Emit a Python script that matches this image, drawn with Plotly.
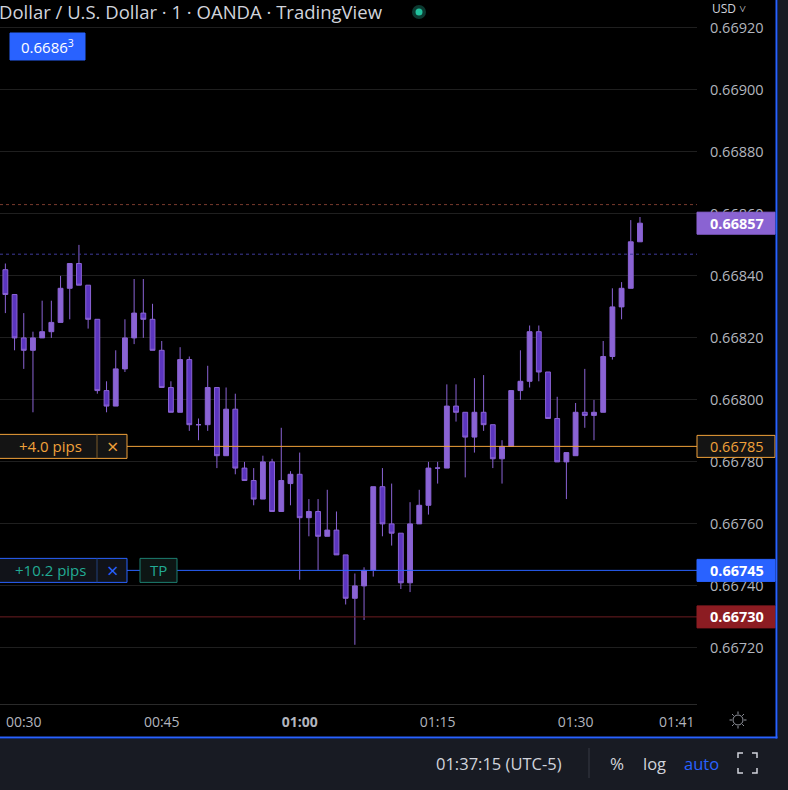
import pandas as pd
import plotly.graph_objects as go

# ---------------- data ----------------
times = pd.date_range("2024-01-01 00:28", periods=70, freq="1min")

opens = [0.66842, 0.66834, 0.66820, 0.66816, 0.66820, 0.66822, 0.66825, 0.66836, 0.66844, 0.66837,
         0.66826, 0.66803, 0.66798, 0.66810, 0.66820, 0.66828, 0.66826, 0.66816, 0.66804, 0.66796,
         0.66813, 0.66792, 0.66792, 0.66804, 0.66782, 0.66797, 0.66778, 0.66774, 0.66768, 0.66780,
         0.66764, 0.66773, 0.66776, 0.66762, 0.66764, 0.66756, 0.66758, 0.66750, 0.66736, 0.66740,
         0.66745, 0.66772, 0.66760, 0.66757, 0.66741, 0.66760, 0.66766, 0.66778, 0.66778, 0.66798,
         0.66796, 0.66788, 0.66796, 0.66792, 0.66781, 0.66785, 0.66803, 0.66806, 0.66822, 0.66809,
         0.66794, 0.66780, 0.66782, 0.66796, 0.66795, 0.66796, 0.66814, 0.66830, 0.66836, 0.66851]
highs = [0.66844, 0.66834, 0.66828, 0.66822, 0.66832, 0.66832, 0.66840, 0.66844, 0.66850, 0.66837,
         0.66826, 0.66806, 0.66816, 0.66826, 0.66839, 0.66839, 0.66831, 0.66819, 0.66806, 0.66817,
         0.66814, 0.66794, 0.66811, 0.66804, 0.66804, 0.66802, 0.66780, 0.66778, 0.66782, 0.66781,
         0.66791, 0.66777, 0.66783, 0.66768, 0.66768, 0.66771, 0.66764, 0.66750, 0.66744, 0.66746,
         0.66772, 0.66778, 0.66773, 0.66757, 0.66767, 0.66771, 0.66780, 0.66780, 0.66805, 0.66805,
         0.66796, 0.66807, 0.66808, 0.66792, 0.66787, 0.66803, 0.66816, 0.66824, 0.66824, 0.66809,
         0.66801, 0.66783, 0.66799, 0.66810, 0.66800, 0.66819, 0.66836, 0.66838, 0.66858, 0.66859]
lows = [0.66828, 0.66816, 0.66810, 0.66796, 0.66820, 0.66820, 0.66825, 0.66826, 0.66837, 0.66823,
        0.66802, 0.66796, 0.66798, 0.66809, 0.66818, 0.66820, 0.66816, 0.66804, 0.66796, 0.66796,
        0.66790, 0.66787, 0.66790, 0.66778, 0.66782, 0.66776, 0.66774, 0.66766, 0.66768, 0.66764,
        0.66764, 0.66766, 0.66742, 0.66756, 0.66745, 0.66756, 0.66750, 0.66734, 0.66721, 0.66729,
        0.66743, 0.66756, 0.66753, 0.66739, 0.66738, 0.66760, 0.66763, 0.66773, 0.66778, 0.66793,
        0.66775, 0.66783, 0.66790, 0.66778, 0.66773, 0.66785, 0.66800, 0.66804, 0.66806, 0.66794,
        0.66780, 0.66768, 0.66782, 0.66791, 0.66787, 0.66796, 0.66813, 0.66826, 0.66836, 0.66851]
closes = [0.66834, 0.66820, 0.66816, 0.66820, 0.66822, 0.66825, 0.66836, 0.66844, 0.66837, 0.66826,
          0.66803, 0.66798, 0.66810, 0.66820, 0.66828, 0.66826, 0.66816, 0.66804, 0.66796, 0.66813,
          0.66792, 0.66792, 0.66804, 0.66782, 0.66797, 0.66778, 0.66774, 0.66768, 0.66780, 0.66764,
          0.66774, 0.66776, 0.66762, 0.66764, 0.66756, 0.66758, 0.66750, 0.66736, 0.66740, 0.66745,
          0.66772, 0.66760, 0.66757, 0.66741, 0.66760, 0.66766, 0.66778, 0.66778, 0.66798, 0.66796,
          0.66788, 0.66796, 0.66792, 0.66781, 0.66785, 0.66803, 0.66806, 0.66822, 0.66809, 0.66794,
          0.66780, 0.66783, 0.66796, 0.66795, 0.66796, 0.66814, 0.66830, 0.66836, 0.66851, 0.66857]

price_ticks = [0.66720, 0.66740, 0.66760, 0.66780, 0.66800, 0.66820, 0.66840, 0.66860, 0.66880, 0.66900, 0.66920]
time_tick_vals = ["2024-01-01 00:30", "2024-01-01 00:45", "2024-01-01 01:00",
                  "2024-01-01 01:15", "2024-01-01 01:30", "2024-01-01 01:41"]
time_tick_text = ["00:30", "00:45", "<b>01:00</b>", "01:15", "01:30", "01:41"]

last_price = 0.66857
entry_price = 0.66785      # +4.0 pips order line
tp_price = 0.66745         # +10.2 pips TP line
sl_price = 0.66730         # red line
dotted_red_price = 0.66863
dotted_blue_price = 0.66847
title_text = "Dollar / U.S. Dollar · 1 · OANDA · TradingView"
entry_text = "+4.0 pips"
tp_text = "+10.2 pips"

# ---------------- style ----------------
FONT = "Open Sans"
UP = "#8a63d4"
DOWN_FILL = "#5b35bf"
ORANGE = "#f0a13a"
BLUE = "#2962ff"
TEAL = "#22ab94"
DARKRED = "#8c1c22"
PURPLE_LBL = "#8a63d2"
GRID = "#1f1f1f"
TXT = "#b2b5be"
BAR_BG = "#181b23"

W, H = 788, 790
def px(x): return x / W
def py(y): return 1 - y / H

fig = go.Figure()
fig.add_trace(go.Candlestick(
    x=times, open=opens, high=highs, low=lows, close=closes,
    increasing=dict(fillcolor=UP, line=dict(color=UP, width=1)),
    decreasing=dict(fillcolor=DOWN_FILL, line=dict(color=UP, width=1)),
    whiskerwidth=0, hoverinfo="skip", showlegend=False,
))

shapes = []
annos = []

def hline(price, color, dash="solid", width=1, x0=0, x1=697):
    shapes.append(dict(type="line", xref="paper", yref="y", x0=px(x0), x1=px(x1), y0=price, y1=price,
                       line=dict(color=color, width=width, dash=dash), layer="above"))

hline(dotted_red_price, "#7a3b2e", dash="dot")
hline(dotted_blue_price, "#3f3a9a", dash="dot")
hline(entry_price, ORANGE)
hline(tp_price, BLUE)
hline(sl_price, "#6e1d22")

def pbox(price, x0, x1, hgt, fill, border):
    shapes.append(dict(type="rect", xref="paper", yref="y", x0=px(x0), x1=px(x1),
                       y0=price - hgt / 2 / 310000, y1=price + hgt / 2 / 310000,
                       fillcolor=fill, line=dict(color=border, width=1), layer="above"))

# left order boxes
pbox(entry_price, -3, 127, 24, "#141414", ORANGE)
shapes.append(dict(type="line", xref="paper", yref="y", x0=px(97), x1=px(97),
                   y0=entry_price - 12 / 310000, y1=entry_price + 12 / 310000,
                   line=dict(color="#7a5a2a", width=1), layer="above"))
pbox(tp_price, -3, 127, 24, "#111319", BLUE)
shapes.append(dict(type="line", xref="paper", yref="y", x0=px(97), x1=px(97),
                   y0=tp_price - 12 / 310000, y1=tp_price + 12 / 310000,
                   line=dict(color="#23407a", width=1), layer="above"))
pbox(tp_price, 140, 177, 24, "#0d1614", "#1d7f70")

def txt(x, y, text, color, size, xanchor="center", yref="paper", family=FONT):
    annos.append(dict(x=x, y=y, xref="paper", yref=yref, text=text, showarrow=False,
                      xanchor=xanchor, yanchor="middle",
                      font=dict(color=color, size=size, family=family)))

txt(px(50), entry_price, entry_text, ORANGE, 15, yref="y")
txt(px(112), entry_price, "×", ORANGE, 20, yref="y")
txt(px(50), tp_price, tp_text, TEAL, 15, yref="y")
txt(px(112), tp_price, "×", BLUE, 20, yref="y")
txt(px(158.5), tp_price, "TP", TEAL, 15, yref="y")

# right price labels
def plabel(price, text, fill, border, color):
    pbox(price, 697, 775, 22, fill, border)
    txt(px(737), price, text, color, 14.5, yref="y")

plabel(last_price, "<b>%.5f</b>" % last_price, PURPLE_LBL, PURPLE_LBL, "#ffffff")
plabel(entry_price, "%.5f" % entry_price, "#141414", ORANGE, ORANGE)
plabel(tp_price, "<b>%.5f</b>" % tp_price, BLUE, BLUE, "#ffffff")
plabel(sl_price, "<b>%.5f</b>" % sl_price, DARKRED, DARKRED, "#ffffff")

# top-left crosshair price badge
shapes.append(dict(type="rect", xref="paper", yref="paper", x0=px(10), x1=px(85), y0=py(60), y1=py(33),
                   fillcolor=BLUE, line=dict(color=BLUE, width=1), layer="above"))
txt(px(47.5), py(46.5), "0.6686<sup>%s</sup>" % str(dotted_red_price)[-1], "#ffffff", 15)

# title + green dot + USD
txt(px(-3), py(12), title_text, "#d1d4dc", 18.5, xanchor="left")
shapes.append(dict(type="circle", xref="paper", yref="paper", x0=px(412), x1=px(426), y0=py(19), y1=py(5),
                   fillcolor="#0c3a31", line=dict(width=0), layer="above"))
shapes.append(dict(type="circle", xref="paper", yref="paper", x0=px(415.5), x1=px(422.5), y0=py(15.5), y1=py(8.5),
                   fillcolor="#22c29e", line=dict(width=0), layer="above"))
txt(px(710), py(9), "USD ˅", "#d1d4dc", 12, xanchor="left")

# panel border + bottom toolbar
shapes.append(dict(type="rect", xref="paper", yref="paper", x0=px(778), x1=1.0, y0=0, y1=1,
                   fillcolor=BAR_BG, line=dict(width=0), layer="above"))
shapes.append(dict(type="rect", xref="paper", yref="paper", x0=0, x1=1.0, y0=0, y1=py(739),
                   fillcolor=BAR_BG, line=dict(width=0), layer="above"))
shapes.append(dict(type="line", xref="paper", yref="paper", x0=px(776.5), x1=px(776.5), y0=py(0), y1=py(738.5),
                   line=dict(color=BLUE, width=2), layer="above"))
shapes.append(dict(type="line", xref="paper", yref="paper", x0=0, x1=px(777.5), y0=py(737.5), y1=py(737.5),
                   line=dict(color=BLUE, width=2), layer="above"))
shapes.append(dict(type="line", xref="paper", yref="paper", x0=px(589), x1=px(589), y0=py(748), y1=py(778),
                   line=dict(color="#363a45", width=1), layer="above"))
txt(px(499), py(763), "01:37:15 (UTC-5)", "#d1d4dc", 16.5)
txt(px(617), py(763), "%", "#d1d4dc", 17)
txt(px(654), py(763), "log", "#d1d4dc", 16.5)
txt(px(701), py(763), "auto", BLUE, 16.5)
# fullscreen icon
for (ax, ay, dx, dy) in [(738, 753, 1, 1), (757, 753, -1, 1), (738, 773, 1, -1), (757, 773, -1, -1)]:
    shapes.append(dict(type="path", xref="paper", yref="paper",
                       path="M %f %f L %f %f L %f %f" % (px(ax + 5 * dx), py(ay), px(ax), py(ay), px(ax), py(ay + 5 * dy)),
                       line=dict(color="#d1d4dc", width=1.5), layer="above"))

# settings (sun) icon on time axis
cx, cy = 738, 720
shapes.append(dict(type="circle", xref="paper", yref="paper", x0=px(cx - 5), x1=px(cx + 5), y0=py(cy + 5), y1=py(cy - 5),
                   line=dict(color="#9598a1", width=1), layer="above"))
for (dx, dy) in [(0, -1), (0, 1), (-1, 0), (1, 0), (0.7, 0.7), (-0.7, 0.7), (0.7, -0.7), (-0.7, -0.7)]:
    shapes.append(dict(type="line", xref="paper", yref="paper",
                       x0=px(cx + 6 * dx), x1=px(cx + 8.5 * dx), y0=py(cy + 6 * dy), y1=py(cy + 8.5 * dy),
                       line=dict(color="#9598a1", width=1), layer="above"))

fig.update_layout(
    template="none",
    width=W, height=H,
    margin=dict(l=0, r=0, t=0, b=0),
    paper_bgcolor="#000000", plot_bgcolor="#000000",
    showlegend=False,
    boxgap=0.25,
    font=dict(family=FONT, color=TXT),
    xaxis=dict(domain=[0, 697 / W], type="date",
               range=["2024-01-01 00:27:25", "2024-01-01 01:43:12"],
               rangeslider=dict(visible=False), showgrid=False, zeroline=False,
               showline=True, linecolor="#2a2a2a", linewidth=1,
               tickmode="array", tickvals=time_tick_vals, ticktext=time_tick_text,
               ticks="", ticklabelstandoff=5, tickfont=dict(size=14, color=TXT, family=FONT),
               automargin=False, fixedrange=True),
    yaxis=dict(domain=[86 / H, 1], side="right",
               range=[0.667019, 0.669290], showgrid=True, gridcolor=GRID, gridwidth=1,
               zeroline=False, showline=False,
               tickmode="array", tickvals=price_ticks, ticktext=["%.5f" % v for v in price_ticks],
               ticks="", ticklabelstandoff=12, tickfont=dict(size=14.5, color=TXT, family=FONT),
               automargin=False, fixedrange=True),
    shapes=shapes,
    annotations=annos,
)

fig.write_html("out.html", config={"displayModeBar": False},
               post_script="document.body.style.margin='0';document.body.style.overflow='hidden';")
